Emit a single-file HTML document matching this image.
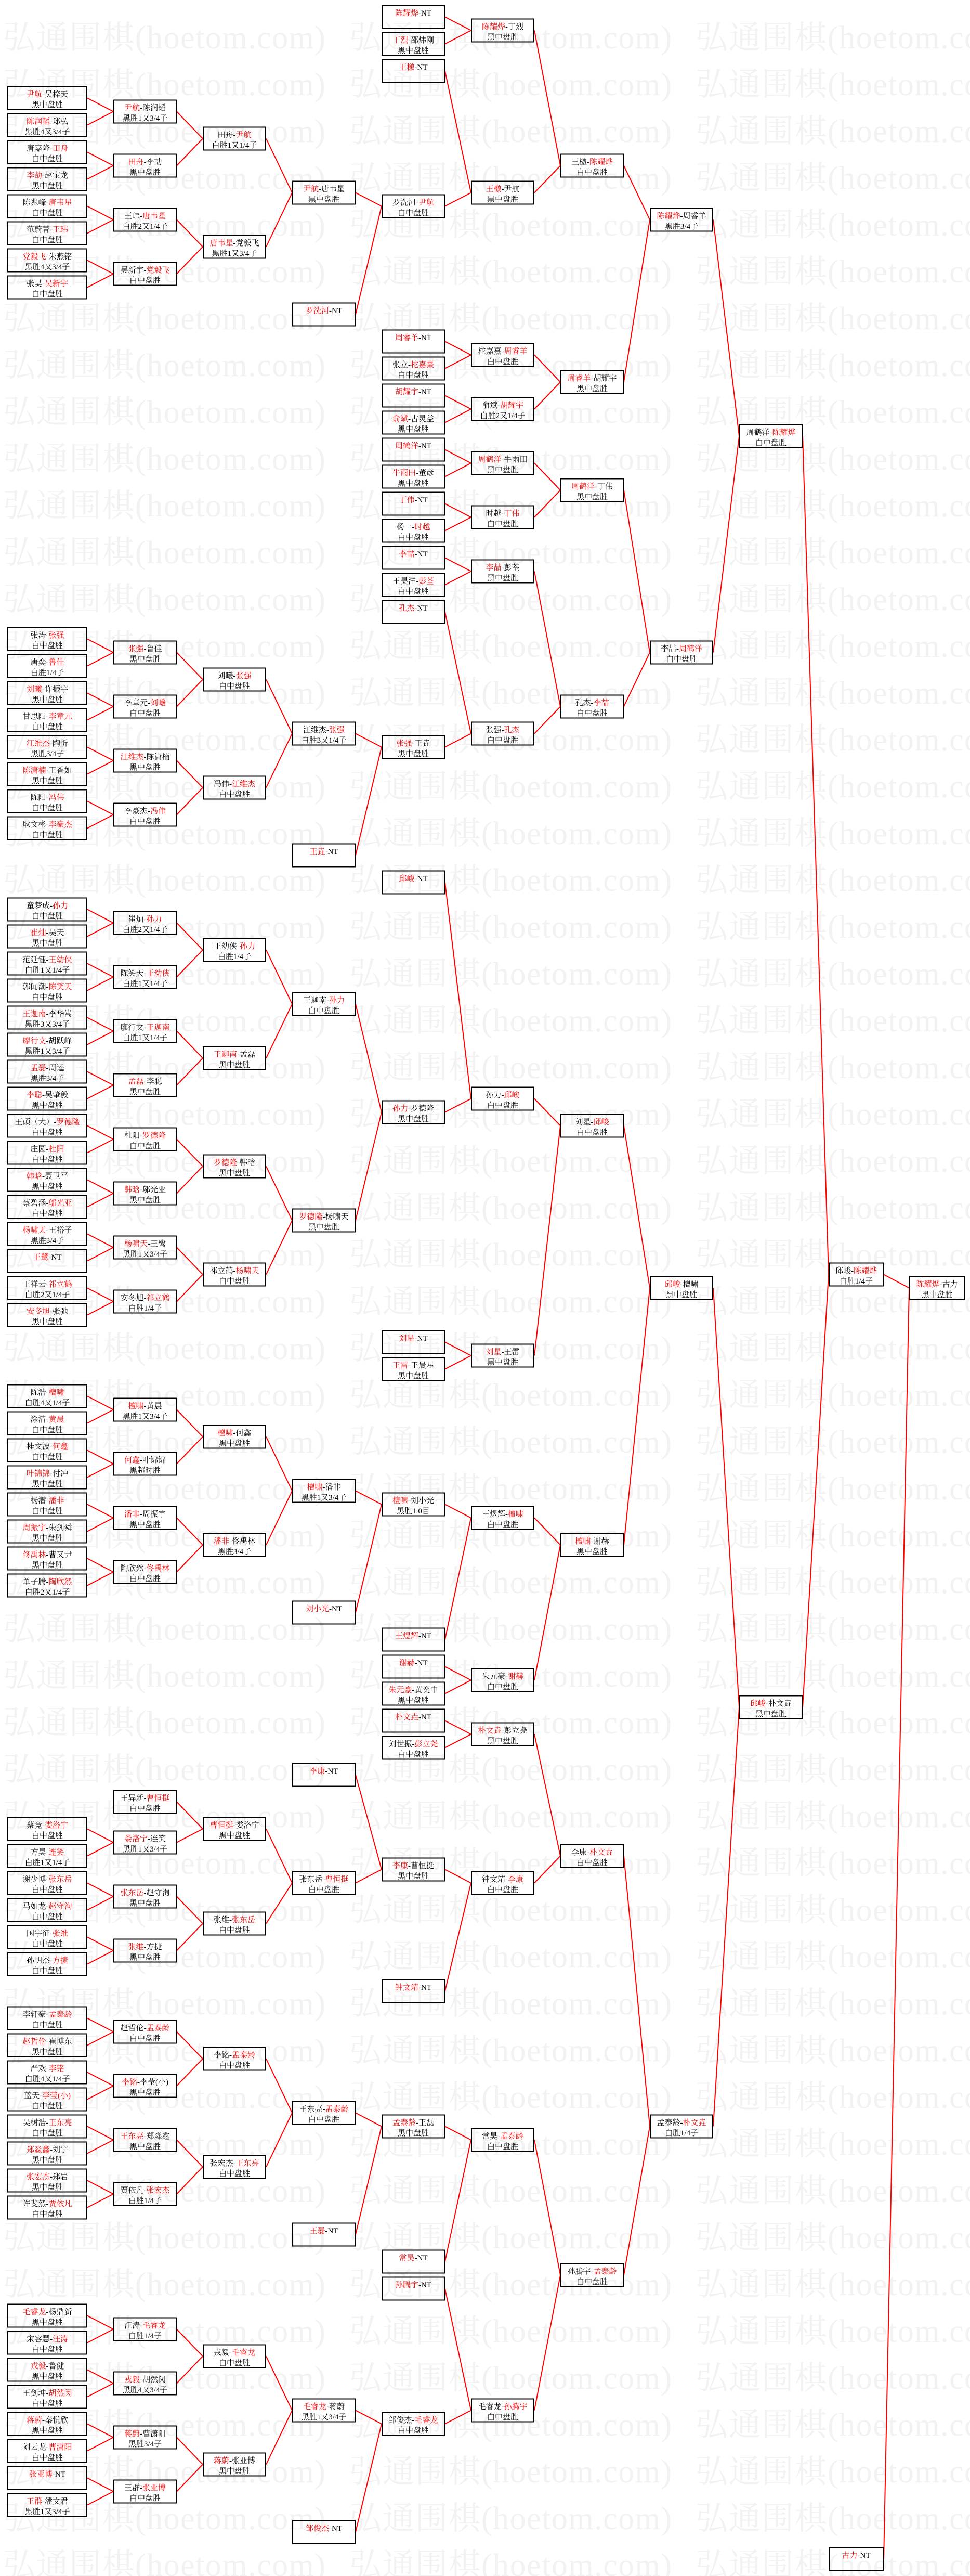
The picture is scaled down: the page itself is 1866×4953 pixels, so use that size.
<!DOCTYPE html>
<html><head><meta charset="utf-8">
<style>
html,body{margin:0;padding:0;background:#fff;}
body{width:1866px;height:4953px;overflow:hidden;}
svg{display:block;}
.bx text{font-family:"Liberation Serif","Noto Serif CJK SC",serif;font-size:15px;text-anchor:middle;fill:#000;}
.bx .r{fill:#f00;}
</style></head><body>
<svg width="1866" height="4953" viewBox="0 0 1866 4953" xmlns="http://www.w3.org/2000/svg">
<defs>
<pattern id="wm" patternUnits="userSpaceOnUse" x="0" y="25" width="666" height="90">
<text x="6" y="68" textLength="620" lengthAdjust="spacing" style="font-family:'Liberation Serif','Noto Serif CJK SC',serif;font-size:62px;fill:#f2f2f2;text-anchor:start">弘通围棋(hoetom.com)</text>
</pattern>
<rect id="b0" x="1" y="1" width="152" height="44" fill="none" stroke="#000" stroke-width="2"/>
<rect id="b1" x="1" y="1" width="120" height="44" fill="none" stroke="#000" stroke-width="2"/>
<rect id="b9" x="1" y="1" width="104" height="44" fill="none" stroke="#000" stroke-width="2"/>
<rect id="b10" x="1" y="1" width="105" height="44" fill="none" stroke="#000" stroke-width="2"/>
</defs>
<rect x="0" y="0" width="1866" height="4953" fill="#fff"/>
<rect x="0" y="25" width="1866" height="4928" fill="url(#wm)"/>

<path fill="none" stroke="#f00" stroke-width="2" d="
M168 188.5L218 214.5M168 240.5L218 214.5M168 292.5L218 318.5M168 344.5L218 318.5
M168 396.5L218 422.5M168 448.5L218 422.5M168 500.5L218 526.5M168 552.5L218 526.5
M340 214.5L390 266.5M340 318.5L390 266.5M340 422.5L390 474.5M340 526.5L390 474.5
M512 266.5L562 370.5M512 474.5L562 370.5
M684 370.5L734 396.5M684 604.5L734 396.5
M856 32.5L906 58.5M856 84.5L906 58.5M856 136.5L906 370.5M856 396.5L906 370.5
M1028 58.5L1078 318.5M1028 370.5L1078 318.5
M856 656.5L906 682.5M856 708.5L906 682.5M856 760.5L906 786.5M856 812.5L906 786.5
M1028 682.5L1078 734.5M1028 786.5L1078 734.5
M1200 318.5L1250 422.5M1200 734.5L1250 422.5
M856 864.5L906 890.5M856 916.5L906 890.5M856 968.5L906 994.5M856 1020.5L906 994.5
M1028 890.5L1078 942.5M1028 994.5L1078 942.5
M856 1072.5L906 1098.5M856 1124.5L906 1098.5
M168 1228.5L218 1254.5M168 1280.5L218 1254.5M168 1332.5L218 1358.5M168 1384.5L218 1358.5
M168 1436.5L218 1462.5M168 1488.5L218 1462.5M168 1540.5L218 1566.5M168 1592.5L218 1566.5
M340 1254.5L390 1306.5M340 1358.5L390 1306.5M340 1462.5L390 1514.5M340 1566.5L390 1514.5
M512 1306.5L562 1410.5M512 1514.5L562 1410.5
M684 1410.5L734 1436.5M684 1644.5L734 1436.5
M856 1176.5L906 1410.5M856 1436.5L906 1410.5
M1028 1098.5L1078 1358.5M1028 1410.5L1078 1358.5
M1200 942.5L1250 1254.5M1200 1358.5L1250 1254.5
M1372 422.5L1422 838.5M1372 1254.5L1422 838.5
M1544 838.5L1594 2450.5
M168 1748.5L218 1774.5M168 1800.5L218 1774.5M168 1852.5L218 1878.5M168 1904.5L218 1878.5
M168 1956.5L218 1982.5M168 2008.5L218 1982.5M168 2060.5L218 2086.5M168 2112.5L218 2086.5
M168 2164.5L218 2190.5M168 2216.5L218 2190.5M168 2268.5L218 2294.5M168 2320.5L218 2294.5
M168 2372.5L218 2398.5M168 2424.5L218 2398.5M168 2476.5L218 2502.5M168 2528.5L218 2502.5
M340 1774.5L390 1826.5M340 1878.5L390 1826.5M340 1982.5L390 2034.5M340 2086.5L390 2034.5
M340 2190.5L390 2242.5M340 2294.5L390 2242.5M340 2398.5L390 2450.5M340 2502.5L390 2450.5
M512 1826.5L562 1930.5M512 2034.5L562 1930.5M512 2242.5L562 2346.5M512 2450.5L562 2346.5
M684 1930.5L734 2138.5M684 2346.5L734 2138.5
M856 1696.5L906 2112.5M856 2138.5L906 2112.5M856 2580.5L906 2606.5M856 2632.5L906 2606.5
M1028 2112.5L1078 2164.5M1028 2606.5L1078 2164.5
M168 2684.5L218 2710.5M168 2736.5L218 2710.5M168 2788.5L218 2814.5M168 2840.5L218 2814.5
M168 2892.5L218 2918.5M168 2944.5L218 2918.5M168 2996.5L218 3022.5M168 3048.5L218 3022.5
M340 2710.5L390 2762.5M340 2814.5L390 2762.5M340 2918.5L390 2970.5M340 3022.5L390 2970.5
M512 2762.5L562 2866.5M512 2970.5L562 2866.5
M684 2866.5L734 2892.5M684 3100.5L734 2892.5
M856 2892.5L906 2918.5M856 3152.5L906 2918.5M856 3204.5L906 3230.5M856 3256.5L906 3230.5
M1028 2918.5L1078 2970.5M1028 3230.5L1078 2970.5
M1200 2164.5L1250 2476.5M1200 2970.5L1250 2476.5
M856 3308.5L906 3334.5M856 3360.5L906 3334.5
M168 3516.5L218 3542.5M168 3568.5L218 3542.5M168 3620.5L218 3646.5M168 3672.5L218 3646.5
M168 3724.5L218 3750.5M168 3776.5L218 3750.5
M340 3464.5L390 3516.5M340 3542.5L390 3516.5M340 3646.5L390 3698.5M340 3750.5L390 3698.5
M512 3516.5L562 3620.5M512 3698.5L562 3620.5
M684 3412.5L734 3594.5M684 3620.5L734 3594.5
M856 3594.5L906 3620.5M856 3828.5L906 3620.5
M1028 3334.5L1078 3568.5M1028 3620.5L1078 3568.5
M168 3880.5L218 3906.5M168 3932.5L218 3906.5M168 3984.5L218 4010.5M168 4036.5L218 4010.5
M168 4088.5L218 4114.5M168 4140.5L218 4114.5M168 4192.5L218 4218.5M168 4244.5L218 4218.5
M340 3906.5L390 3958.5M340 4010.5L390 3958.5M340 4114.5L390 4166.5M340 4218.5L390 4166.5
M512 3958.5L562 4062.5M512 4166.5L562 4062.5
M684 4062.5L734 4088.5M684 4296.5L734 4088.5
M856 4088.5L906 4114.5M856 4348.5L906 4114.5
M168 4452.5L218 4478.5M168 4504.5L218 4478.5M168 4556.5L218 4582.5M168 4608.5L218 4582.5
M168 4660.5L218 4686.5M168 4712.5L218 4686.5M168 4764.5L218 4790.5M168 4816.5L218 4790.5
M340 4478.5L390 4530.5M340 4582.5L390 4530.5M340 4686.5L390 4738.5M340 4790.5L390 4738.5
M512 4530.5L562 4634.5M512 4738.5L562 4634.5
M684 4634.5L734 4660.5M684 4868.5L734 4660.5
M856 4400.5L906 4634.5M856 4660.5L906 4634.5
M1028 4114.5L1078 4374.5M1028 4634.5L1078 4374.5
M1200 3568.5L1250 4088.5M1200 4374.5L1250 4088.5
M1372 2476.5L1422 3282.5M1372 4088.5L1422 3282.5
M1544 3282.5L1594 2450.5
M1700 2450.5L1749 2476.5M1700 4920.5L1749 2476.5"/>

<g class="bx">
<!-- Column 0 -->
<g transform="translate(14,165.5)"><use href="#b0"/><text x="77" y="20.5"><tspan class="r">尹航</tspan>-吴梓天</text><text x="77" y="40.5">黑中盘胜</text></g>
<g transform="translate(14,217.5)"><use href="#b0"/><text x="77" y="20.5"><tspan class="r">陈润韬</tspan>-郑弘</text><text x="77" y="40.5">黑胜4又3/4子</text></g>
<g transform="translate(14,269.5)"><use href="#b0"/><text x="77" y="20.5">唐嘉隆-<tspan class="r">田舟</tspan></text><text x="77" y="40.5">白中盘胜</text></g>
<g transform="translate(14,321.5)"><use href="#b0"/><text x="77" y="20.5"><tspan class="r">李劼</tspan>-赵宝龙</text><text x="77" y="40.5">黑中盘胜</text></g>
<g transform="translate(14,373.5)"><use href="#b0"/><text x="77" y="20.5">陈兆峰-<tspan class="r">唐韦星</tspan></text><text x="77" y="40.5">白中盘胜</text></g>
<g transform="translate(14,425.5)"><use href="#b0"/><text x="77" y="20.5">范蔚菁-<tspan class="r">王玮</tspan></text><text x="77" y="40.5">白中盘胜</text></g>
<g transform="translate(14,477.5)"><use href="#b0"/><text x="77" y="20.5"><tspan class="r">党毅飞</tspan>-朱燕铭</text><text x="77" y="40.5">黑胜4又3/4子</text></g>
<g transform="translate(14,529.5)"><use href="#b0"/><text x="77" y="20.5">张昊-<tspan class="r">吴新宇</tspan></text><text x="77" y="40.5">白中盘胜</text></g>

<g transform="translate(14,1205.5)"><use href="#b0"/><text x="77" y="20.5">张涛-<tspan class="r">张强</tspan></text><text x="77" y="40.5">白中盘胜</text></g>
<g transform="translate(14,1257.5)"><use href="#b0"/><text x="77" y="20.5">唐奕-<tspan class="r">鲁佳</tspan></text><text x="77" y="40.5">白胜1/4子</text></g>
<g transform="translate(14,1309.5)"><use href="#b0"/><text x="77" y="20.5"><tspan class="r">刘曦</tspan>-许振宇</text><text x="77" y="40.5">黑中盘胜</text></g>
<g transform="translate(14,1361.5)"><use href="#b0"/><text x="77" y="20.5">甘思阳-<tspan class="r">李章元</tspan></text><text x="77" y="40.5">白中盘胜</text></g>
<g transform="translate(14,1413.5)"><use href="#b0"/><text x="77" y="20.5"><tspan class="r">江维杰</tspan>-陶忻</text><text x="77" y="40.5">黑胜3/4子</text></g>
<g transform="translate(14,1465.5)"><use href="#b0"/><text x="77" y="20.5"><tspan class="r">陈潇楠</tspan>-王香如</text><text x="77" y="40.5">黑中盘胜</text></g>
<g transform="translate(14,1517.5)"><use href="#b0"/><text x="77" y="20.5">陈阳-<tspan class="r">冯伟</tspan></text><text x="77" y="40.5">白中盘胜</text></g>
<g transform="translate(14,1569.5)"><use href="#b0"/><text x="77" y="20.5">耿文彬-<tspan class="r">李豪杰</tspan></text><text x="77" y="40.5">白中盘胜</text></g>

<g transform="translate(14,1725.5)"><use href="#b0"/><text x="77" y="20.5">童梦成-<tspan class="r">孙力</tspan></text><text x="77" y="40.5">白中盘胜</text></g>
<g transform="translate(14,1777.5)"><use href="#b0"/><text x="77" y="20.5"><tspan class="r">崔灿</tspan>-吴天</text><text x="77" y="40.5">黑中盘胜</text></g>
<g transform="translate(14,1829.5)"><use href="#b0"/><text x="77" y="20.5">范廷钰-<tspan class="r">王幼侠</tspan></text><text x="77" y="40.5">白胜1又1/4子</text></g>
<g transform="translate(14,1881.5)"><use href="#b0"/><text x="77" y="20.5">郭闻潮-<tspan class="r">陈笑天</tspan></text><text x="77" y="40.5">白中盘胜</text></g>
<g transform="translate(14,1933.5)"><use href="#b0"/><text x="77" y="20.5"><tspan class="r">王迦南</tspan>-李华嵩</text><text x="77" y="40.5">黑胜3又3/4子</text></g>
<g transform="translate(14,1985.5)"><use href="#b0"/><text x="77" y="20.5"><tspan class="r">廖行文</tspan>-胡跃峰</text><text x="77" y="40.5">黑胜1又3/4子</text></g>
<g transform="translate(14,2037.5)"><use href="#b0"/><text x="77" y="20.5"><tspan class="r">孟磊</tspan>-周逵</text><text x="77" y="40.5">黑胜3/4子</text></g>
<g transform="translate(14,2089.5)"><use href="#b0"/><text x="77" y="20.5"><tspan class="r">李聪</tspan>-吴肇毅</text><text x="77" y="40.5">黑中盘胜</text></g>
<g transform="translate(14,2141.5)"><use href="#b0"/><text x="77" y="20.5">王硕（大）-<tspan class="r">罗德隆</tspan></text><text x="77" y="40.5">白中盘胜</text></g>
<g transform="translate(14,2193.5)"><use href="#b0"/><text x="77" y="20.5">庄园-<tspan class="r">杜阳</tspan></text><text x="77" y="40.5">白中盘胜</text></g>
<g transform="translate(14,2245.5)"><use href="#b0"/><text x="77" y="20.5"><tspan class="r">韩晗</tspan>-聂卫平</text><text x="77" y="40.5">黑中盘胜</text></g>
<g transform="translate(14,2297.5)"><use href="#b0"/><text x="77" y="20.5">蔡碧涵-<tspan class="r">邬光亚</tspan></text><text x="77" y="40.5">白中盘胜</text></g>
<g transform="translate(14,2349.5)"><use href="#b0"/><text x="77" y="20.5"><tspan class="r">杨啸天</tspan>-王裕子</text><text x="77" y="40.5">黑胜3/4子</text></g>
<g transform="translate(14,2401.5)"><use href="#b0"/><text x="77" y="20.5"><tspan class="r">王鹭</tspan>-NT</text></g>
<g transform="translate(14,2453.5)"><use href="#b0"/><text x="77" y="20.5">王祥云-<tspan class="r">祁立鹤</tspan></text><text x="77" y="40.5">白胜2又1/4子</text></g>
<g transform="translate(14,2505.5)"><use href="#b0"/><text x="77" y="20.5"><tspan class="r">安冬旭</tspan>-张弛</text><text x="77" y="40.5">黑中盘胜</text></g>

<g transform="translate(14,2661.5)"><use href="#b0"/><text x="77" y="20.5">陈浩-<tspan class="r">檀啸</tspan></text><text x="77" y="40.5">白胜4又1/4子</text></g>
<g transform="translate(14,2713.5)"><use href="#b0"/><text x="77" y="20.5">涂清-<tspan class="r">黄晨</tspan></text><text x="77" y="40.5">白中盘胜</text></g>
<g transform="translate(14,2765.5)"><use href="#b0"/><text x="77" y="20.5">桂文波-<tspan class="r">何鑫</tspan></text><text x="77" y="40.5">白中盘胜</text></g>
<g transform="translate(14,2817.5)"><use href="#b0"/><text x="77" y="20.5"><tspan class="r">叶锦锦</tspan>-付冲</text><text x="77" y="40.5">黑中盘胜</text></g>
<g transform="translate(14,2869.5)"><use href="#b0"/><text x="77" y="20.5">杨潜-<tspan class="r">潘非</tspan></text><text x="77" y="40.5">白中盘胜</text></g>
<g transform="translate(14,2921.5)"><use href="#b0"/><text x="77" y="20.5"><tspan class="r">周振宇</tspan>-朱剑舜</text><text x="77" y="40.5">黑中盘胜</text></g>
<g transform="translate(14,2973.5)"><use href="#b0"/><text x="77" y="20.5"><tspan class="r">佟禹林</tspan>-曹又尹</text><text x="77" y="40.5">黑中盘胜</text></g>
<g transform="translate(14,3025.5)"><use href="#b0"/><text x="77" y="20.5">单子腾-<tspan class="r">陶欣然</tspan></text><text x="77" y="40.5">白胜2又1/4子</text></g>

<g transform="translate(14,3493.5)"><use href="#b0"/><text x="77" y="20.5">蔡竞-<tspan class="r">娄洛宁</tspan></text><text x="77" y="40.5">白中盘胜</text></g>
<g transform="translate(14,3545.5)"><use href="#b0"/><text x="77" y="20.5">方昊-<tspan class="r">连笑</tspan></text><text x="77" y="40.5">白胜1又1/4子</text></g>
<g transform="translate(14,3597.5)"><use href="#b0"/><text x="77" y="20.5">谢少博-<tspan class="r">张东岳</tspan></text><text x="77" y="40.5">白中盘胜</text></g>
<g transform="translate(14,3649.5)"><use href="#b0"/><text x="77" y="20.5">马如龙-<tspan class="r">赵守洵</tspan></text><text x="77" y="40.5">白中盘胜</text></g>
<g transform="translate(14,3701.5)"><use href="#b0"/><text x="77" y="20.5">国宇征-<tspan class="r">张维</tspan></text><text x="77" y="40.5">白中盘胜</text></g>
<g transform="translate(14,3753.5)"><use href="#b0"/><text x="77" y="20.5">孙明杰-<tspan class="r">方捷</tspan></text><text x="77" y="40.5">白中盘胜</text></g>

<g transform="translate(14,3857.5)"><use href="#b0"/><text x="77" y="20.5">李轩豪-<tspan class="r">孟泰龄</tspan></text><text x="77" y="40.5">白中盘胜</text></g>
<g transform="translate(14,3909.5)"><use href="#b0"/><text x="77" y="20.5"><tspan class="r">赵哲伦</tspan>-崔博东</text><text x="77" y="40.5">黑中盘胜</text></g>
<g transform="translate(14,3961.5)"><use href="#b0"/><text x="77" y="20.5">严欢-<tspan class="r">李铭</tspan></text><text x="77" y="40.5">白胜4又1/4子</text></g>
<g transform="translate(14,4013.5)"><use href="#b0"/><text x="77" y="20.5">蓝天-<tspan class="r">李莹(小)</tspan></text><text x="77" y="40.5">白中盘胜</text></g>
<g transform="translate(14,4065.5)"><use href="#b0"/><text x="77" y="20.5">吴树浩-<tspan class="r">王东亮</tspan></text><text x="77" y="40.5">白中盘胜</text></g>
<g transform="translate(14,4117.5)"><use href="#b0"/><text x="77" y="20.5"><tspan class="r">郑淼鑫</tspan>-刘宇</text><text x="77" y="40.5">黑中盘胜</text></g>
<g transform="translate(14,4169.5)"><use href="#b0"/><text x="77" y="20.5"><tspan class="r">张宏杰</tspan>-郑岩</text><text x="77" y="40.5">黑中盘胜</text></g>
<g transform="translate(14,4221.5)"><use href="#b0"/><text x="77" y="20.5">许斐然-<tspan class="r">贾依凡</tspan></text><text x="77" y="40.5">白中盘胜</text></g>

<g transform="translate(14,4429.5)"><use href="#b0"/><text x="77" y="20.5"><tspan class="r">毛睿龙</tspan>-杨鼎新</text><text x="77" y="40.5">黑中盘胜</text></g>
<g transform="translate(14,4481.5)"><use href="#b0"/><text x="77" y="20.5">宋容慧-<tspan class="r">汪涛</tspan></text><text x="77" y="40.5">白中盘胜</text></g>
<g transform="translate(14,4533.5)"><use href="#b0"/><text x="77" y="20.5"><tspan class="r">戎毅</tspan>-鲁健</text><text x="77" y="40.5">黑中盘胜</text></g>
<g transform="translate(14,4585.5)"><use href="#b0"/><text x="77" y="20.5">王剑坤-<tspan class="r">胡然闵</tspan></text><text x="77" y="40.5">白中盘胜</text></g>
<g transform="translate(14,4637.5)"><use href="#b0"/><text x="77" y="20.5"><tspan class="r">蒋蔚</tspan>-秦悦欣</text><text x="77" y="40.5">黑中盘胜</text></g>
<g transform="translate(14,4689.5)"><use href="#b0"/><text x="77" y="20.5">刘云龙-<tspan class="r">曹潇阳</tspan></text><text x="77" y="40.5">白中盘胜</text></g>
<g transform="translate(14,4741.5)"><use href="#b0"/><text x="77" y="20.5"><tspan class="r">张亚博</tspan>-NT</text></g>
<g transform="translate(14,4793.5)"><use href="#b0"/><text x="77" y="20.5"><tspan class="r">王群</tspan>-潘文君</text><text x="77" y="40.5">黑胜1又3/4子</text></g>

<!-- Column 1 -->
<g transform="translate(218,191.5)"><use href="#b1"/><text x="61" y="20.5"><tspan class="r">尹航</tspan>-陈润韬</text><text x="61" y="40.5">黑胜1又3/4子</text></g>
<g transform="translate(218,295.5)"><use href="#b1"/><text x="61" y="20.5"><tspan class="r">田舟</tspan>-李劼</text><text x="61" y="40.5">黑中盘胜</text></g>
<g transform="translate(218,399.5)"><use href="#b1"/><text x="61" y="20.5">王玮-<tspan class="r">唐韦星</tspan></text><text x="61" y="40.5">白胜2又1/4子</text></g>
<g transform="translate(218,503.5)"><use href="#b1"/><text x="61" y="20.5">吴新宇-<tspan class="r">党毅飞</tspan></text><text x="61" y="40.5">白中盘胜</text></g>
<g transform="translate(218,1231.5)"><use href="#b1"/><text x="61" y="20.5"><tspan class="r">张强</tspan>-鲁佳</text><text x="61" y="40.5">黑中盘胜</text></g>
<g transform="translate(218,1335.5)"><use href="#b1"/><text x="61" y="20.5">李章元-<tspan class="r">刘曦</tspan></text><text x="61" y="40.5">白中盘胜</text></g>
<g transform="translate(218,1439.5)"><use href="#b1"/><text x="61" y="20.5"><tspan class="r">江维杰</tspan>-陈潇楠</text><text x="61" y="40.5">黑中盘胜</text></g>
<g transform="translate(218,1543.5)"><use href="#b1"/><text x="61" y="20.5">李豪杰-<tspan class="r">冯伟</tspan></text><text x="61" y="40.5">白中盘胜</text></g>
<g transform="translate(218,1751.5)"><use href="#b1"/><text x="61" y="20.5">崔灿-<tspan class="r">孙力</tspan></text><text x="61" y="40.5">白胜2又1/4子</text></g>
<g transform="translate(218,1855.5)"><use href="#b1"/><text x="61" y="20.5">陈笑天-<tspan class="r">王幼侠</tspan></text><text x="61" y="40.5">白胜1又1/4子</text></g>
<g transform="translate(218,1959.5)"><use href="#b1"/><text x="61" y="20.5">廖行文-<tspan class="r">王迦南</tspan></text><text x="61" y="40.5">白胜1又1/4子</text></g>
<g transform="translate(218,2063.5)"><use href="#b1"/><text x="61" y="20.5"><tspan class="r">孟磊</tspan>-李聪</text><text x="61" y="40.5">黑中盘胜</text></g>
<g transform="translate(218,2167.5)"><use href="#b1"/><text x="61" y="20.5">杜阳-<tspan class="r">罗德隆</tspan></text><text x="61" y="40.5">白中盘胜</text></g>
<g transform="translate(218,2271.5)"><use href="#b1"/><text x="61" y="20.5"><tspan class="r">韩晗</tspan>-邬光亚</text><text x="61" y="40.5">黑中盘胜</text></g>
<g transform="translate(218,2375.5)"><use href="#b1"/><text x="61" y="20.5"><tspan class="r">杨啸天</tspan>-王鹭</text><text x="61" y="40.5">黑胜1又3/4子</text></g>
<g transform="translate(218,2479.5)"><use href="#b1"/><text x="61" y="20.5">安冬旭-<tspan class="r">祁立鹤</tspan></text><text x="61" y="40.5">白胜1/4子</text></g>
<g transform="translate(218,2687.5)"><use href="#b1"/><text x="61" y="20.5"><tspan class="r">檀啸</tspan>-黄晨</text><text x="61" y="40.5">黑胜1又3/4子</text></g>
<g transform="translate(218,2791.5)"><use href="#b1"/><text x="61" y="20.5"><tspan class="r">何鑫</tspan>-叶锦锦</text><text x="61" y="40.5">黑超时胜</text></g>
<g transform="translate(218,2895.5)"><use href="#b1"/><text x="61" y="20.5"><tspan class="r">潘非</tspan>-周振宇</text><text x="61" y="40.5">黑中盘胜</text></g>
<g transform="translate(218,2999.5)"><use href="#b1"/><text x="61" y="20.5">陶欣然-<tspan class="r">佟禹林</tspan></text><text x="61" y="40.5">白中盘胜</text></g>
<g transform="translate(218,3441.5)"><use href="#b1"/><text x="61" y="20.5">王异新-<tspan class="r">曹恒挺</tspan></text><text x="61" y="40.5">白中盘胜</text></g>
<g transform="translate(218,3519.5)"><use href="#b1"/><text x="61" y="20.5"><tspan class="r">娄洛宁</tspan>-连笑</text><text x="61" y="40.5">黑胜1又3/4子</text></g>
<g transform="translate(218,3623.5)"><use href="#b1"/><text x="61" y="20.5"><tspan class="r">张东岳</tspan>-赵守洵</text><text x="61" y="40.5">黑中盘胜</text></g>
<g transform="translate(218,3727.5)"><use href="#b1"/><text x="61" y="20.5"><tspan class="r">张维</tspan>-方捷</text><text x="61" y="40.5">黑中盘胜</text></g>
<g transform="translate(218,3883.5)"><use href="#b1"/><text x="61" y="20.5">赵哲伦-<tspan class="r">孟泰龄</tspan></text><text x="61" y="40.5">白中盘胜</text></g>
<g transform="translate(218,3987.5)"><use href="#b1"/><text x="61" y="20.5"><tspan class="r">李铭</tspan>-李莹(小)</text><text x="61" y="40.5">黑中盘胜</text></g>
<g transform="translate(218,4091.5)"><use href="#b1"/><text x="61" y="20.5"><tspan class="r">王东亮</tspan>-郑淼鑫</text><text x="61" y="40.5">黑中盘胜</text></g>
<g transform="translate(218,4195.5)"><use href="#b1"/><text x="61" y="20.5">贾依凡-<tspan class="r">张宏杰</tspan></text><text x="61" y="40.5">白胜1/4子</text></g>
<g transform="translate(218,4455.5)"><use href="#b1"/><text x="61" y="20.5">汪涛-<tspan class="r">毛睿龙</tspan></text><text x="61" y="40.5">白胜1/4子</text></g>
<g transform="translate(218,4559.5)"><use href="#b1"/><text x="61" y="20.5"><tspan class="r">戎毅</tspan>-胡然闵</text><text x="61" y="40.5">黑胜4又3/4子</text></g>
<g transform="translate(218,4663.5)"><use href="#b1"/><text x="61" y="20.5"><tspan class="r">蒋蔚</tspan>-曹潇阳</text><text x="61" y="40.5">黑胜3/4子</text></g>
<g transform="translate(218,4767.5)"><use href="#b1"/><text x="61" y="20.5">王群-<tspan class="r">张亚博</tspan></text><text x="61" y="40.5">白中盘胜</text></g>

<!-- Column 2 -->
<g transform="translate(390,243.5)"><use href="#b1"/><text x="61" y="20.5">田舟-<tspan class="r">尹航</tspan></text><text x="61" y="40.5">白胜1又1/4子</text></g>
<g transform="translate(390,451.5)"><use href="#b1"/><text x="61" y="20.5"><tspan class="r">唐韦星</tspan>-党毅飞</text><text x="61" y="40.5">黑胜1又3/4子</text></g>
<g transform="translate(390,1283.5)"><use href="#b1"/><text x="61" y="20.5">刘曦-<tspan class="r">张强</tspan></text><text x="61" y="40.5">白中盘胜</text></g>
<g transform="translate(390,1491.5)"><use href="#b1"/><text x="61" y="20.5">冯伟-<tspan class="r">江维杰</tspan></text><text x="61" y="40.5">白中盘胜</text></g>
<g transform="translate(390,1803.5)"><use href="#b1"/><text x="61" y="20.5">王幼侠-<tspan class="r">孙力</tspan></text><text x="61" y="40.5">白胜1/4子</text></g>
<g transform="translate(390,2011.5)"><use href="#b1"/><text x="61" y="20.5"><tspan class="r">王迦南</tspan>-孟磊</text><text x="61" y="40.5">黑中盘胜</text></g>
<g transform="translate(390,2219.5)"><use href="#b1"/><text x="61" y="20.5"><tspan class="r">罗德隆</tspan>-韩晗</text><text x="61" y="40.5">黑中盘胜</text></g>
<g transform="translate(390,2427.5)"><use href="#b1"/><text x="61" y="20.5">祁立鹤-<tspan class="r">杨啸天</tspan></text><text x="61" y="40.5">白中盘胜</text></g>
<g transform="translate(390,2739.5)"><use href="#b1"/><text x="61" y="20.5"><tspan class="r">檀啸</tspan>-何鑫</text><text x="61" y="40.5">黑中盘胜</text></g>
<g transform="translate(390,2947.5)"><use href="#b1"/><text x="61" y="20.5"><tspan class="r">潘非</tspan>-佟禹林</text><text x="61" y="40.5">黑胜3/4子</text></g>
<g transform="translate(390,3493.5)"><use href="#b1"/><text x="61" y="20.5"><tspan class="r">曹恒挺</tspan>-娄洛宁</text><text x="61" y="40.5">黑中盘胜</text></g>
<g transform="translate(390,3675.5)"><use href="#b1"/><text x="61" y="20.5">张维-<tspan class="r">张东岳</tspan></text><text x="61" y="40.5">白中盘胜</text></g>
<g transform="translate(390,3935.5)"><use href="#b1"/><text x="61" y="20.5">李铭-<tspan class="r">孟泰龄</tspan></text><text x="61" y="40.5">白中盘胜</text></g>
<g transform="translate(390,4143.5)"><use href="#b1"/><text x="61" y="20.5">张宏杰-<tspan class="r">王东亮</tspan></text><text x="61" y="40.5">白中盘胜</text></g>
<g transform="translate(390,4507.5)"><use href="#b1"/><text x="61" y="20.5">戎毅-<tspan class="r">毛睿龙</tspan></text><text x="61" y="40.5">白中盘胜</text></g>
<g transform="translate(390,4715.5)"><use href="#b1"/><text x="61" y="20.5"><tspan class="r">蒋蔚</tspan>-张亚博</text><text x="61" y="40.5">黑中盘胜</text></g>

<!-- Column 3 -->
<g transform="translate(562,347.5)"><use href="#b1"/><text x="61" y="20.5"><tspan class="r">尹航</tspan>-唐韦星</text><text x="61" y="40.5">黑中盘胜</text></g>
<g transform="translate(562,581.5)"><use href="#b1"/><text x="61" y="20.5"><tspan class="r">罗洗河</tspan>-NT</text></g>
<g transform="translate(562,1387.5)"><use href="#b1"/><text x="61" y="20.5">江维杰-<tspan class="r">张强</tspan></text><text x="61" y="40.5">白胜3又1/4子</text></g>
<g transform="translate(562,1621.5)"><use href="#b1"/><text x="61" y="20.5"><tspan class="r">王垚</tspan>-NT</text></g>
<g transform="translate(562,1907.5)"><use href="#b1"/><text x="61" y="20.5">王迦南-<tspan class="r">孙力</tspan></text><text x="61" y="40.5">白中盘胜</text></g>
<g transform="translate(562,2323.5)"><use href="#b1"/><text x="61" y="20.5"><tspan class="r">罗德隆</tspan>-杨啸天</text><text x="61" y="40.5">黑中盘胜</text></g>
<g transform="translate(562,2843.5)"><use href="#b1"/><text x="61" y="20.5"><tspan class="r">檀啸</tspan>-潘非</text><text x="61" y="40.5">黑胜1又3/4子</text></g>
<g transform="translate(562,3077.5)"><use href="#b1"/><text x="61" y="20.5"><tspan class="r">刘小光</tspan>-NT</text></g>
<g transform="translate(562,3389.5)"><use href="#b1"/><text x="61" y="20.5"><tspan class="r">李康</tspan>-NT</text></g>
<g transform="translate(562,3597.5)"><use href="#b1"/><text x="61" y="20.5">张东岳-<tspan class="r">曹恒挺</tspan></text><text x="61" y="40.5">白中盘胜</text></g>
<g transform="translate(562,4039.5)"><use href="#b1"/><text x="61" y="20.5">王东亮-<tspan class="r">孟泰龄</tspan></text><text x="61" y="40.5">白中盘胜</text></g>
<g transform="translate(562,4273.5)"><use href="#b1"/><text x="61" y="20.5"><tspan class="r">王磊</tspan>-NT</text></g>
<g transform="translate(562,4611.5)"><use href="#b1"/><text x="61" y="20.5"><tspan class="r">毛睿龙</tspan>-蒋蔚</text><text x="61" y="40.5">黑胜1又3/4子</text></g>
<g transform="translate(562,4845.5)"><use href="#b1"/><text x="61" y="20.5"><tspan class="r">邹俊杰</tspan>-NT</text></g>

<!-- Column 4 -->
<g transform="translate(734,9.5)"><use href="#b1"/><text x="61" y="20.5"><tspan class="r">陈耀烨</tspan>-NT</text></g>
<g transform="translate(734,61.5)"><use href="#b1"/><text x="61" y="20.5"><tspan class="r">丁烈</tspan>-邵炜刚</text><text x="61" y="40.5">黑中盘胜</text></g>
<g transform="translate(734,113.5)"><use href="#b1"/><text x="61" y="20.5"><tspan class="r">王檄</tspan>-NT</text></g>
<g transform="translate(734,373.5)"><use href="#b1"/><text x="61" y="20.5">罗洗河-<tspan class="r">尹航</tspan></text><text x="61" y="40.5">白中盘胜</text></g>
<g transform="translate(734,633.5)"><use href="#b1"/><text x="61" y="20.5"><tspan class="r">周睿羊</tspan>-NT</text></g>
<g transform="translate(734,685.5)"><use href="#b1"/><text x="61" y="20.5">张立-<tspan class="r">柁嘉熹</tspan></text><text x="61" y="40.5">白中盘胜</text></g>
<g transform="translate(734,737.5)"><use href="#b1"/><text x="61" y="20.5"><tspan class="r">胡耀宇</tspan>-NT</text></g>
<g transform="translate(734,789.5)"><use href="#b1"/><text x="61" y="20.5"><tspan class="r">俞斌</tspan>-古灵益</text><text x="61" y="40.5">黑中盘胜</text></g>
<g transform="translate(734,841.5)"><use href="#b1"/><text x="61" y="20.5"><tspan class="r">周鹤洋</tspan>-NT</text></g>
<g transform="translate(734,893.5)"><use href="#b1"/><text x="61" y="20.5"><tspan class="r">牛雨田</tspan>-董彦</text><text x="61" y="40.5">黑中盘胜</text></g>
<g transform="translate(734,945.5)"><use href="#b1"/><text x="61" y="20.5"><tspan class="r">丁伟</tspan>-NT</text></g>
<g transform="translate(734,997.5)"><use href="#b1"/><text x="61" y="20.5">杨一-<tspan class="r">时越</tspan></text><text x="61" y="40.5">白中盘胜</text></g>
<g transform="translate(734,1049.5)"><use href="#b1"/><text x="61" y="20.5"><tspan class="r">李喆</tspan>-NT</text></g>
<g transform="translate(734,1101.5)"><use href="#b1"/><text x="61" y="20.5">王昊洋-<tspan class="r">彭荃</tspan></text><text x="61" y="40.5">白中盘胜</text></g>
<g transform="translate(734,1153.5)"><use href="#b1"/><text x="61" y="20.5"><tspan class="r">孔杰</tspan>-NT</text></g>
<g transform="translate(734,1413.5)"><use href="#b1"/><text x="61" y="20.5"><tspan class="r">张强</tspan>-王垚</text><text x="61" y="40.5">黑中盘胜</text></g>
<g transform="translate(734,1673.5)"><use href="#b1"/><text x="61" y="20.5"><tspan class="r">邱峻</tspan>-NT</text></g>
<g transform="translate(734,2115.5)"><use href="#b1"/><text x="61" y="20.5"><tspan class="r">孙力</tspan>-罗德隆</text><text x="61" y="40.5">黑中盘胜</text></g>
<g transform="translate(734,2557.5)"><use href="#b1"/><text x="61" y="20.5"><tspan class="r">刘星</tspan>-NT</text></g>
<g transform="translate(734,2609.5)"><use href="#b1"/><text x="61" y="20.5"><tspan class="r">王雷</tspan>-王晨星</text><text x="61" y="40.5">黑中盘胜</text></g>
<g transform="translate(734,2869.5)"><use href="#b1"/><text x="61" y="20.5"><tspan class="r">檀啸</tspan>-刘小光</text><text x="61" y="40.5">黑胜1.0目</text></g>
<g transform="translate(734,3129.5)"><use href="#b1"/><text x="61" y="20.5"><tspan class="r">王煜辉</tspan>-NT</text></g>
<g transform="translate(734,3181.5)"><use href="#b1"/><text x="61" y="20.5"><tspan class="r">谢赫</tspan>-NT</text></g>
<g transform="translate(734,3233.5)"><use href="#b1"/><text x="61" y="20.5"><tspan class="r">朱元豪</tspan>-黄奕中</text><text x="61" y="40.5">黑中盘胜</text></g>
<g transform="translate(734,3285.5)"><use href="#b1"/><text x="61" y="20.5"><tspan class="r">朴文垚</tspan>-NT</text></g>
<g transform="translate(734,3337.5)"><use href="#b1"/><text x="61" y="20.5">刘世振-<tspan class="r">彭立尧</tspan></text><text x="61" y="40.5">白中盘胜</text></g>
<g transform="translate(734,3571.5)"><use href="#b1"/><text x="61" y="20.5"><tspan class="r">李康</tspan>-曹恒挺</text><text x="61" y="40.5">黑中盘胜</text></g>
<g transform="translate(734,3805.5)"><use href="#b1"/><text x="61" y="20.5"><tspan class="r">钟文靖</tspan>-NT</text></g>
<g transform="translate(734,4065.5)"><use href="#b1"/><text x="61" y="20.5"><tspan class="r">孟泰龄</tspan>-王磊</text><text x="61" y="40.5">黑中盘胜</text></g>
<g transform="translate(734,4325.5)"><use href="#b1"/><text x="61" y="20.5"><tspan class="r">常昊</tspan>-NT</text></g>
<g transform="translate(734,4377.5)"><use href="#b1"/><text x="61" y="20.5"><tspan class="r">孙腾宇</tspan>-NT</text></g>
<g transform="translate(734,4637.5)"><use href="#b1"/><text x="61" y="20.5">邹俊杰-<tspan class="r">毛睿龙</tspan></text><text x="61" y="40.5">白中盘胜</text></g>

<!-- Column 5 -->
<g transform="translate(906,35.5)"><use href="#b1"/><text x="61" y="20.5"><tspan class="r">陈耀烨</tspan>-丁烈</text><text x="61" y="40.5">黑中盘胜</text></g>
<g transform="translate(906,347.5)"><use href="#b1"/><text x="61" y="20.5"><tspan class="r">王檄</tspan>-尹航</text><text x="61" y="40.5">黑中盘胜</text></g>
<g transform="translate(906,659.5)"><use href="#b1"/><text x="61" y="20.5">柁嘉熹-<tspan class="r">周睿羊</tspan></text><text x="61" y="40.5">白中盘胜</text></g>
<g transform="translate(906,763.5)"><use href="#b1"/><text x="61" y="20.5">俞斌-<tspan class="r">胡耀宇</tspan></text><text x="61" y="40.5">白胜2又1/4子</text></g>
<g transform="translate(906,867.5)"><use href="#b1"/><text x="61" y="20.5"><tspan class="r">周鹤洋</tspan>-牛雨田</text><text x="61" y="40.5">黑中盘胜</text></g>
<g transform="translate(906,971.5)"><use href="#b1"/><text x="61" y="20.5">时越-<tspan class="r">丁伟</tspan></text><text x="61" y="40.5">白中盘胜</text></g>
<g transform="translate(906,1075.5)"><use href="#b1"/><text x="61" y="20.5"><tspan class="r">李喆</tspan>-彭荃</text><text x="61" y="40.5">黑中盘胜</text></g>
<g transform="translate(906,1387.5)"><use href="#b1"/><text x="61" y="20.5">张强-<tspan class="r">孔杰</tspan></text><text x="61" y="40.5">白中盘胜</text></g>
<g transform="translate(906,2089.5)"><use href="#b1"/><text x="61" y="20.5">孙力-<tspan class="r">邱峻</tspan></text><text x="61" y="40.5">白中盘胜</text></g>
<g transform="translate(906,2583.5)"><use href="#b1"/><text x="61" y="20.5"><tspan class="r">刘星</tspan>-王雷</text><text x="61" y="40.5">黑中盘胜</text></g>
<g transform="translate(906,2895.5)"><use href="#b1"/><text x="61" y="20.5">王煜辉-<tspan class="r">檀啸</tspan></text><text x="61" y="40.5">白中盘胜</text></g>
<g transform="translate(906,3207.5)"><use href="#b1"/><text x="61" y="20.5">朱元豪-<tspan class="r">谢赫</tspan></text><text x="61" y="40.5">白中盘胜</text></g>
<g transform="translate(906,3311.5)"><use href="#b1"/><text x="61" y="20.5"><tspan class="r">朴文垚</tspan>-彭立尧</text><text x="61" y="40.5">黑中盘胜</text></g>
<g transform="translate(906,3597.5)"><use href="#b1"/><text x="61" y="20.5">钟文靖-<tspan class="r">李康</tspan></text><text x="61" y="40.5">白中盘胜</text></g>
<g transform="translate(906,4091.5)"><use href="#b1"/><text x="61" y="20.5">常昊-<tspan class="r">孟泰龄</tspan></text><text x="61" y="40.5">白中盘胜</text></g>
<g transform="translate(906,4611.5)"><use href="#b1"/><text x="61" y="20.5">毛睿龙-<tspan class="r">孙腾宇</tspan></text><text x="61" y="40.5">白中盘胜</text></g>

<!-- Column 6 -->
<g transform="translate(1078,295.5)"><use href="#b1"/><text x="61" y="20.5">王檄-<tspan class="r">陈耀烨</tspan></text><text x="61" y="40.5">白中盘胜</text></g>
<g transform="translate(1078,711.5)"><use href="#b1"/><text x="61" y="20.5"><tspan class="r">周睿羊</tspan>-胡耀宇</text><text x="61" y="40.5">黑中盘胜</text></g>
<g transform="translate(1078,919.5)"><use href="#b1"/><text x="61" y="20.5"><tspan class="r">周鹤洋</tspan>-丁伟</text><text x="61" y="40.5">黑中盘胜</text></g>
<g transform="translate(1078,1335.5)"><use href="#b1"/><text x="61" y="20.5">孔杰-<tspan class="r">李喆</tspan></text><text x="61" y="40.5">白中盘胜</text></g>
<g transform="translate(1078,2141.5)"><use href="#b1"/><text x="61" y="20.5">刘星-<tspan class="r">邱峻</tspan></text><text x="61" y="40.5">白中盘胜</text></g>
<g transform="translate(1078,2947.5)"><use href="#b1"/><text x="61" y="20.5"><tspan class="r">檀啸</tspan>-谢赫</text><text x="61" y="40.5">黑中盘胜</text></g>
<g transform="translate(1078,3545.5)"><use href="#b1"/><text x="61" y="20.5">李康-<tspan class="r">朴文垚</tspan></text><text x="61" y="40.5">白中盘胜</text></g>
<g transform="translate(1078,4351.5)"><use href="#b1"/><text x="61" y="20.5">孙腾宇-<tspan class="r">孟泰龄</tspan></text><text x="61" y="40.5">白中盘胜</text></g>

<!-- Column 7 -->
<g transform="translate(1250,399.5)"><use href="#b1"/><text x="61" y="20.5"><tspan class="r">陈耀烨</tspan>-周睿羊</text><text x="61" y="40.5">黑胜3/4子</text></g>
<g transform="translate(1250,1231.5)"><use href="#b1"/><text x="61" y="20.5">李喆-<tspan class="r">周鹤洋</tspan></text><text x="61" y="40.5">白中盘胜</text></g>
<g transform="translate(1250,2453.5)"><use href="#b1"/><text x="61" y="20.5"><tspan class="r">邱峻</tspan>-檀啸</text><text x="61" y="40.5">黑中盘胜</text></g>
<g transform="translate(1250,4065.5)"><use href="#b1"/><text x="61" y="20.5">孟泰龄-<tspan class="r">朴文垚</tspan></text><text x="61" y="40.5">白胜1/4子</text></g>

<!-- Column 8 -->
<g transform="translate(1422,815.5)"><use href="#b1"/><text x="61" y="20.5">周鹤洋-<tspan class="r">陈耀烨</tspan></text><text x="61" y="40.5">白中盘胜</text></g>
<g transform="translate(1422,3259.5)"><use href="#b1"/><text x="61" y="20.5"><tspan class="r">邱峻</tspan>-朴文垚</text><text x="61" y="40.5">黑中盘胜</text></g>

<!-- Column 9 -->
<g transform="translate(1594,2427.5)"><use href="#b9"/><text x="53" y="20.5">邱峻-<tspan class="r">陈耀烨</tspan></text><text x="53" y="40.5">白胜1/4子</text></g>
<g transform="translate(1594,4897.5)"><use href="#b9"/><text x="53" y="20.5"><tspan class="r">古力</tspan>-NT</text></g>

<!-- Column 10 -->
<g transform="translate(1749,2453.5)"><use href="#b10"/><text x="53.5" y="20.5"><tspan class="r">陈耀烨</tspan>-古力</text><text x="53.5" y="40.5">黑中盘胜</text></g>
</g>
</svg>
</body></html>
